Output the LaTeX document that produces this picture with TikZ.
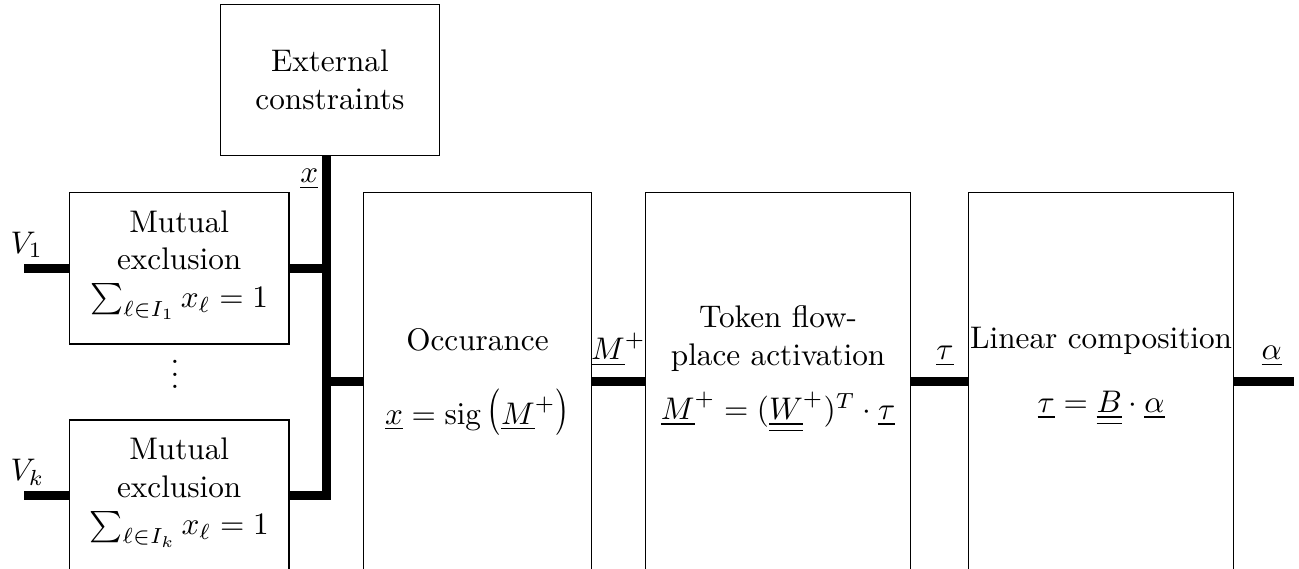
\documentclass[tikz,border=0pt]{standalone}
\usepackage{graphicx}
\newcommand{\tallopen}{\mathopen{\raisebox{0.66pt}{\scalebox{1}[1.24]{$\bigl($}}}}
\newcommand{\tallclose}{\mathclose{\raisebox{0.66pt}{\scalebox{1}[1.24]{$\bigr)$}}}}
\begin{document}
\begin{tikzpicture}[x=0.32pt,y=-0.32pt,
  box/.style={draw, line width=0.4pt, inner sep=0pt, align=center},
  smallbox/.style={box, minimum width=219.7*0.32pt, minimum height=151.3*0.32pt},
  bigbox/.style={box, minimum height=377.6*0.32pt},
  wire/.style={line width=2.88pt},
  txt/.style={inner sep=0pt, align=center},
  lbl/.style={inner sep=0pt, anchor=base}]
\useasboundingbox (0,0) rectangle (1299,569);
\clip (0,0) rectangle (1299,569);
% boxes
\node[box, minimum width=218.8*0.32pt, minimum height=151*0.32pt] (ext) at (329.9,79.8) {External\\constraints};
\node[smallbox] (mut1) at (179.2,268.35) {};
\node[smallbox] (mut2) at (179.2,495.7) {};
\node[bigbox, minimum width=227.5*0.32pt] (occ) at (477.5,381.5) {};
\node[bigbox, minimum width=265.2*0.32pt] (tok) at (778.1,381.5) {};
\node[bigbox, minimum width=264.9*0.32pt] (lin) at (1101.1,381.5) {};
% box texts
\node[txt] (mut1-t) at (179.2,265.3) {Mutual\\exclusion\\$\sum_{\ell\in I_1} x_\ell = 1$};
\node[txt] (mut2-t) at (179.2,492.6) {Mutual\\exclusion\\$\sum_{\ell\in I_k} x_\ell = 1$};
\node[txt] (occ-t) at (477.5,382.3) {Occurance\\[11.5pt]$\underline{x} = \mathrm{sig}\,\tallopen\underline{M}^+\tallclose$};
\node[txt] (tok-t) at (778.1,369) {Token flow-\\place activation\\[5.3pt]$\underline{M}^+ = (\underline{\underline{W}}^+)^T \cdot \underline{\tau}$};
\node[txt] (lin-t) at (1101.1,376) {Linear composition\\[8.6pt]$\underline{\tau} = \underline{\underline{B}} \cdot \underline{\alpha}$};
\node[lbl] (dots) at (175,389) {$\vdots$};
% junction coordinates
\coordinate (in1) at (24,268.35);
\coordinate (ink) at (24,495.7);
\coordinate (j1) at (326.2,268.35);
\coordinate (j2) at (326.2,381.5);
\coordinate (j3) at (326.2,495.7);
\coordinate (out) at (1294,381.5);
% wires
\draw[wire] (in1) -- (mut1.west);
\draw[wire] (ink) -- (mut2.west);
\draw[wire] (mut1.east) -- (j1);
\draw[wire] (j1 |- ext.south) -- (j3) -- (mut2.east);
\draw[wire] (j2) -- (occ.west);
\draw[wire] (occ.east) -- (tok.west);
\draw[wire] (tok.east) -- (lin.west);
\draw[wire] (lin.east) -- (out);
% labels
\node[lbl, anchor=base west] (v1) at (10,253.3) {$V_1$};
\node[lbl, anchor=base west] (vk) at (10,480.7) {$V_k$};
\node[lbl] (xl) at (309.2,183) {$\underline{x}$};
\node[lbl] (mp) at (618.4,360) {$\underline{M}^+$};
\node[lbl] (tl) at (945,360) {$\underline{\tau}$};
\node[lbl] (al) at (1271.7,360) {$\underline{\alpha}$};
\end{tikzpicture}
\end{document}
